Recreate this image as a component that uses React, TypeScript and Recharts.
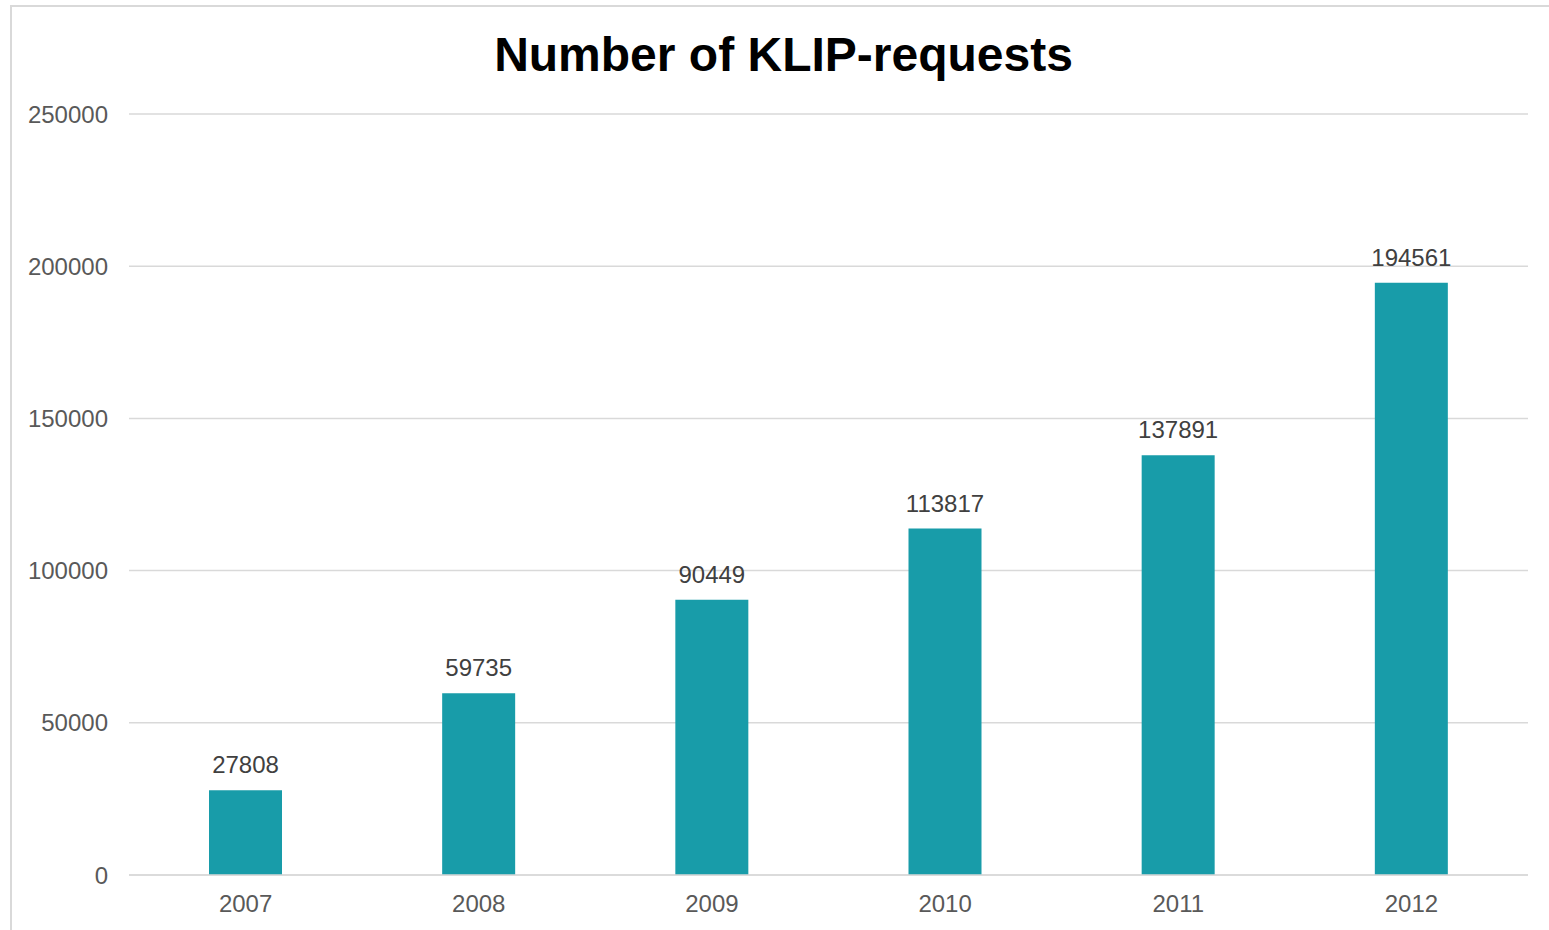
import { Bar, BarChart, CartesianGrid, LabelList, XAxis, YAxis } from "recharts";

const years = ["2007", "2008", "2009", "2010", "2011", "2012"];
const requests = [27808, 59735, 90449, 113817, 137891, 194561];
const yTicks = [0, 50000, 100000, 150000, 200000, 250000];

const data = years.map((year, i) => ({ year, requests: requests[i] }));

const font = "'Liberation Sans', Arial, sans-serif";

export default function App() {
  return (
    <div style={{ position: "fixed", left: 0, top: 0, width: 1549, height: 930, background: "#fff", overflow: "hidden" }}>
      <div
        style={{
          position: "absolute",
          left: 10,
          top: 5,
          width: 1560,
          height: 960,
          border: "2px solid #d9d9d9",
          boxSizing: "border-box",
        }}
      />
      <div
        style={{
          position: "absolute",
          left: 0,
          top: 31,
          width: 1567,
          textAlign: "center",
          fontFamily: font,
          fontWeight: "bold",
          fontSize: 48,
          lineHeight: "48px",
          color: "#000",
        }}
      >
        Number of KLIP-requests
      </div>
      <div style={{ position: "absolute", left: 0, top: 0 }}>
        <BarChart width={1549} height={930} data={data} margin={{ top: 114, right: 21, bottom: 0, left: 0 }}>
          <CartesianGrid vertical={false} stroke="#d9d9d9" strokeWidth={1.5} />
          <XAxis
            dataKey="year"
            height={55}
            tickSize={0}
            tickMargin={20}
            axisLine={{ stroke: "#d9d9d9", strokeWidth: 1.5 }}
            tick={{ fontSize: 24, fill: "#595959", fontFamily: font }}
          />
          <YAxis
            width={129}
            domain={[0, 250000]}
            ticks={yTicks}
            tickSize={0}
            tickMargin={21}
            axisLine={false}
            tickLine={false}
            tick={{ fontSize: 24, fill: "#595959", fontFamily: font }}
          />
          <Bar dataKey="requests" fill="#189ca9" barSize={73} isAnimationActive={false}>
            <LabelList
              dataKey="requests"
              position="top"
              offset={17}
              style={{ fontSize: 24, fill: "#404040", fontFamily: font }}
            />
          </Bar>
        </BarChart>
      </div>
    </div>
  );
}
